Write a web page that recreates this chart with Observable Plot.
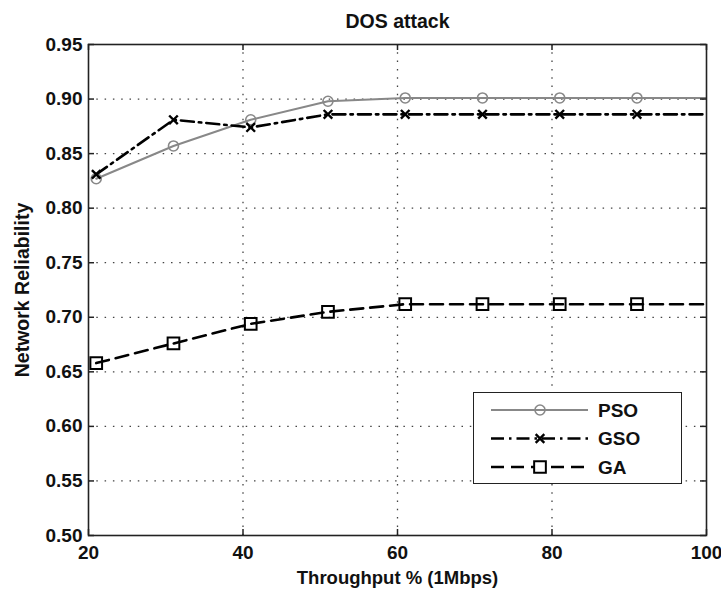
<!DOCTYPE html>
<html>
<head>
<meta charset="utf-8">
<script src="https://cdn.jsdelivr.net/npm/d3@7"></script>
<script src="https://cdn.jsdelivr.net/npm/@observablehq/plot@0.6"></script>
<style>
  html, body { margin: 0; padding: 0; background: #fff; }
  #chart { position: relative; width: 721px; height: 591px; }
  #legend {
    position: absolute; left: 473px; top: 392px;
    width: 207px; height: 90px;
    border: 1.5px solid #222; background: #fff;
  }
</style>
</head>
<body>
<div id="chart"></div>
<script>
// Throughput (% of 1 Mbps) at which each optimizer was evaluated
const throughput = [21, 31, 41, 51, 61, 71, 81, 91, 101];

// Network reliability for each method
const pso = [0.827, 0.857, 0.881, 0.898, 0.901, 0.901, 0.901, 0.901, 0.901];
const gso = [0.831, 0.881, 0.874, 0.886, 0.886, 0.886, 0.886, 0.886, 0.886];
const ga  = [0.658, 0.676, 0.694, 0.705, 0.712, 0.712, 0.712, 0.712, 0.712];

const seriesNames = ["PSO", "GSO", "GA"];
const xTicks = [20, 40, 60, 80, 100];
const yTicks = [0.50, 0.55, 0.60, 0.65, 0.70, 0.75, 0.80, 0.85, 0.90, 0.95];

const titleText = "DOS attack";
const xLabel = "Throughput % (1Mbps)";
const yLabel = "Network Reliability";

// Line and marker styling per series
const styles = {
  PSO: {stroke: "#888", width: 2, dash: null, symbol: "circle", r: 5, markerWidth: 1.6},
  GSO: {stroke: "#000", width: 2.6, dash: "13,5,2.5,5", symbol: "times", r: 4, markerWidth: 2.4},
  GA:  {stroke: "#000", width: 2.6, dash: "13,7", symbol: "square", r: 6.6, markerWidth: 2}
};

const values = {PSO: pso, GSO: gso, GA: ga};
const rows = s => throughput.map((x, i) => ({x, y: values[s][i], s}));

const font = "'Liberation Sans', Arial, sans-serif";
const gridStyle = {stroke: "#444", strokeWidth: 1.3, strokeDasharray: "1.5,6.8"};
const labelStyle = {fontWeight: "bold", textAnchor: "middle", lineAnchor: "middle"};

const seriesMarks = seriesNames.flatMap(s => {
  const st = styles[s];
  return [
    Plot.line(rows(s), {x: "x", y: "y", stroke: st.stroke, strokeWidth: st.width,
      strokeDasharray: st.dash, clip: true}),
    Plot.dot(rows(s), {x: "x", y: "y", symbol: () => st.symbol, r: st.r,
      stroke: st.stroke, strokeWidth: st.markerWidth, fill: "none", clip: true})
  ];
});

const chart = Plot.plot({
  width: 721,
  height: 591,
  marginLeft: 88,
  marginRight: 15,
  marginTop: 44,
  marginBottom: 56,
  style: {fontFamily: font, fontSize: "19px", fontWeight: "bold", color: "#111", background: "#fff"},
  x: {domain: [20, 100], ticks: xTicks, tickSize: 0, tickPadding: 10, tickFormat: d => d, label: null},
  y: {domain: [0.5, 0.95], ticks: yTicks, tickSize: 0, tickPadding: 6, tickFormat: d3.format(".2f"), label: null},
  symbol: {type: "identity"},
  marks: [
    // dotted grid at interior ticks
    Plot.ruleX(xTicks.slice(1, -1), {x: d => d, ...gridStyle}),
    Plot.ruleY(yTicks.slice(1, -1), {y: d => d, ...gridStyle}),
    ...seriesMarks,
    // inward tick marks on all four sides
    Plot.ruleX(xTicks, {x: d => d, insetTop: 485, stroke: "#222", strokeWidth: 1.5}),
    Plot.ruleX(xTicks, {x: d => d, insetBottom: 485, stroke: "#222", strokeWidth: 1.5}),
    Plot.ruleY(yTicks, {y: d => d, insetRight: 612, stroke: "#222", strokeWidth: 1.5}),
    Plot.ruleY(yTicks, {y: d => d, insetLeft: 612, stroke: "#222", strokeWidth: 1.5}),
    Plot.frame({stroke: "#222", strokeWidth: 1.6}),
    Plot.text([titleText], {text: d => d, frameAnchor: "top", dy: -22.5, fontSize: 19.5, ...labelStyle}),
    Plot.text([xLabel], {text: d => d, frameAnchor: "bottom", dy: 42.5, fontSize: 18.5, ...labelStyle}),
    Plot.text([yLabel], {text: d => d, frameAnchor: "left", dx: -66, rotate: -90, fontSize: 19.5, ...labelStyle})
  ]
});

const container = document.getElementById("chart");
container.appendChild(chart);

// Legend box with line + marker swatches
const legend = document.createElement("div");
legend.id = "legend";
container.appendChild(legend);

const lsvg = d3.select(legend).append("svg")
  .attr("width", 207).attr("height", 90)
  .style("display", "block");

const symbolTypes = {circle: d3.symbolCircle, times: d3.symbolTimes, square: d3.symbolSquare};

seriesNames.forEach((s, i) => {
  const st = styles[s];
  const cy = 17 + i * 28.5;
  const g = lsvg.append("g").attr("transform", `translate(0,${cy})`);
  g.append("line")
    .attr("x1", 17).attr("x2", 114).attr("y1", 0).attr("y2", 0)
    .attr("stroke", st.stroke).attr("stroke-width", st.width)
    .attr("stroke-dasharray", st.dash);
  g.append("path")
    .attr("transform", "translate(66,0)")
    .attr("d", d3.symbol(symbolTypes[st.symbol], st.r * st.r * Math.PI)())
    .attr("fill", st.symbol === "circle" ? "none" : "#fff")
    .attr("stroke", st.stroke).attr("stroke-width", st.markerWidth);
  g.append("text")
    .attr("x", 124).attr("y", 0).attr("dy", "0.35em")
    .attr("font-family", font).attr("font-size", 19).attr("font-weight", "bold")
    .attr("fill", "#111")
    .text(s);
});
</script>
</body>
</html>
